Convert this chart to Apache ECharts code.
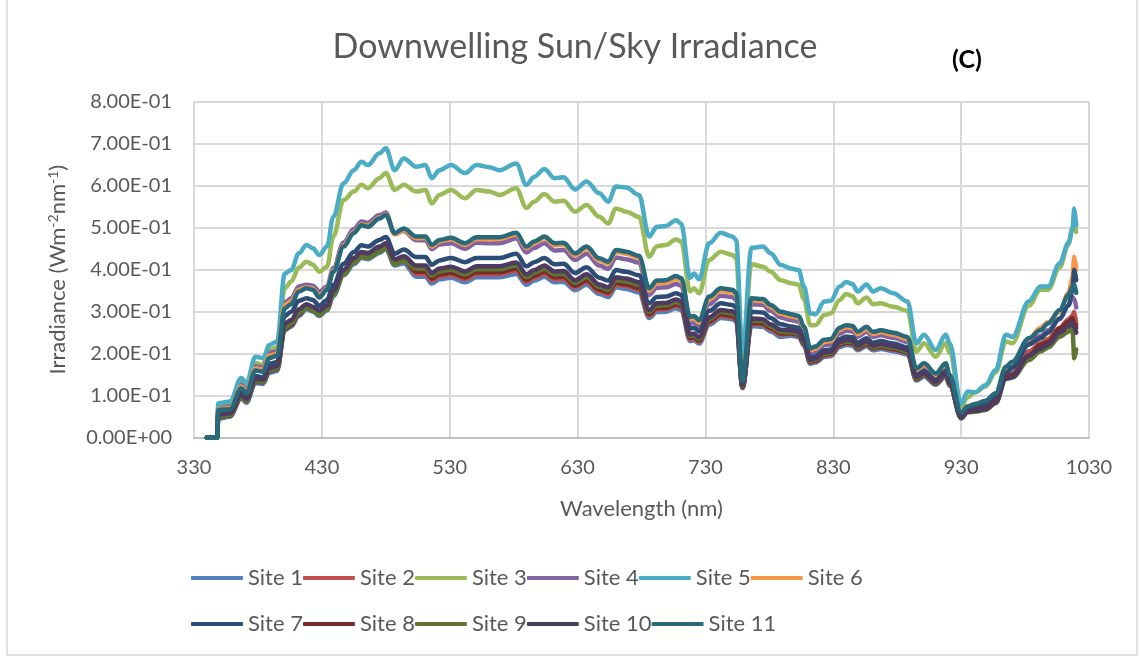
<!DOCTYPE html>
<html>
<head>
<meta charset="utf-8">
<script src="https://cdn.jsdelivr.net/npm/echarts@6/dist/echarts.min.js"></script>
<style>
html,body{margin:0;padding:0;background:#fff;}
#chart{width:1141px;height:658px;}
</style>
</head>
<body>
<div id="chart"></div>
<script>
// Wavelength (nm)
const wavelength = [340,348,349,358,367,371,378,384,389,395,
401,406,412,418,423,428,434,439,447,455,
461,466,475,480,487,494,504,511,516,522,
531,542,551,561,569,582,590,596,604,612,
619,628,637,647,654,660,668,678,686,692,
699,707,711,718,721,725,733,742,751,754,
759,766,775,781,789,797,803,807,812,816,
823,828,835,840,845,849,856,861,867,877,
888,895,901,910,918,921,930,935,941,949,
957,965,970,983,992,998,1007,1014,1017,1018.5,
1020];

const site1 = [0,0,.045,.050,.094,.083,.130,.128,.155,.159,
.256,.264,.290,.306,.300,.290,.303,.337,.386,.413,
.428,.425,.440,.449,.410,.415,.383,.383,.367,.377,
.381,.370,.382,.382,.382,.390,.364,.374,.383,.370,
.371,.351,.364,.342,.335,.358,.354,.346,.285,.299,
.300,.308,.304,.230,.232,.224,.269,.285,.282,.276,
.118,.266,.264,.253,.240,.243,.239,.219,.176,.179,
.192,.194,.216,.221,.219,.208,.218,.208,.211,.206,
.198,.136,.146,.126,.146,.123,.052,.066,.070,.075,
.094,.150,.156,.205,.222,.232,.260,.282,.290,.288,
.270];

const site2 = [0,0,.052,.056,.099,.089,.136,.134,.161,.166,
.264,.272,.298,.312,.307,.297,.310,.345,.394,.421,
.436,.434,.449,.458,.419,.424,.390,.390,.374,.384,
.388,.377,.389,.389,.389,.398,.371,.381,.390,.377,
.378,.358,.371,.348,.341,.364,.361,.353,.290,.305,
.306,.314,.310,.235,.236,.228,.274,.290,.287,.281,
.119,.271,.269,.258,.245,.247,.244,.223,.179,.182,
.196,.197,.220,.225,.223,.212,.222,.212,.215,.210,
.202,.139,.149,.129,.149,.125,.050,.064,.068,.072,
.090,.148,.152,.205,.225,.235,.262,.280,.290,.300,
.270];

const site3 = [0,0,0.076,0.080,0.130,0.120,0.178,0.174,0.210,0.215,
0.356,0.372,0.405,0.419,0.412,0.395,0.407,0.479,0.566,0.586,
0.602,0.594,0.618,0.630,0.590,0.602,0.586,0.590,0.558,0.578,
0.590,0.570,0.590,0.586,0.578,0.594,0.547,0.562,0.580,0.562,
0.564,0.538,0.554,0.526,0.510,0.546,0.538,0.526,0.431,0.456,
0.459,0.472,0.467,0.348,0.356,0.344,0.423,0.443,0.435,0.428,
0.185,0.413,0.407,0.395,0.375,0.368,0.364,0.330,0.268,0.268,
0.292,0.296,0.328,0.342,0.337,0.320,0.334,0.318,0.320,0.312,
0.302,0.205,0.225,0.193,0.225,0.201,0.074,0.096,0.108,0.122,
0.155,0.229,0.225,0.314,0.352,0.352,0.405,0.460,0.500,0.510,
0.490];

const site4 = [0,0,0.070,0.074,0.126,0.114,0.170,0.167,0.202,0.206,
0.322,0.332,0.360,0.364,0.362,0.348,0.360,0.404,0.465,0.497,
0.515,0.512,0.530,0.536,0.486,0.492,0.470,0.470,0.449,0.460,
0.463,0.450,0.464,0.463,0.463,0.474,0.441,0.452,0.463,0.446,
0.447,0.423,0.438,0.410,0.402,0.429,0.425,0.417,0.340,0.357,
0.358,0.366,0.362,0.272,0.274,0.264,0.318,0.338,0.335,0.328,
0.128,0.318,0.316,0.302,0.286,0.280,0.276,0.252,0.200,0.204,
0.220,0.222,0.248,0.255,0.253,0.240,0.252,0.240,0.244,0.238,
0.228,0.157,0.168,0.145,0.168,0.141,0.055,0.070,0.076,0.083,
0.100,0.158,0.170,0.225,0.242,0.256,0.282,0.315,0.335,0.330,
0.310];

const site5 = [0,0,0.082,0.086,0.142,0.129,0.193,0.189,0.221,0.229,
0.391,0.399,0.439,0.459,0.451,0.435,0.455,0.526,0.606,0.637,
0.657,0.649,0.677,0.689,0.637,0.665,0.645,0.649,0.618,0.637,
0.649,0.630,0.649,0.644,0.637,0.653,0.602,0.621,0.640,0.618,
0.620,0.591,0.610,0.582,0.562,0.598,0.596,0.578,0.479,0.502,
0.504,0.518,0.510,0.380,0.391,0.377,0.463,0.488,0.479,0.471,
0.200,0.452,0.455,0.439,0.411,0.403,0.399,0.360,0.296,0.294,
0.324,0.326,0.360,0.371,0.366,0.348,0.365,0.348,0.356,0.344,
0.324,0.225,0.245,0.209,0.245,0.225,0.080,0.110,0.108,0.125,
0.161,0.245,0.240,0.325,0.360,0.360,0.415,0.465,0.495,0.546,
0.505];

const site6 = [0,0,0.068,0.071,0.122,0.110,0.165,0.162,0.196,0.200,
0.316,0.325,0.352,0.358,0.355,0.338,0.354,0.398,0.458,0.490,
0.508,0.505,0.524,0.532,0.484,0.494,0.475,0.476,0.455,0.468,
0.472,0.459,0.473,0.472,0.473,0.484,0.451,0.463,0.475,0.458,
0.459,0.434,0.450,0.422,0.414,0.442,0.438,0.428,0.350,0.368,
0.369,0.378,0.374,0.282,0.284,0.274,0.330,0.349,0.346,0.339,
0.132,0.327,0.325,0.311,0.295,0.289,0.285,0.260,0.208,0.212,
0.228,0.230,0.257,0.263,0.261,0.247,0.259,0.247,0.251,0.245,
0.235,0.161,0.173,0.149,0.173,0.145,0.058,0.074,0.080,0.087,
0.104,0.165,0.178,0.235,0.262,0.275,0.300,0.345,0.380,0.431,
0.400];

const site7 = [0,0,0.060,0.062,0.108,0.098,0.147,0.144,0.176,0.180,
0.290,0.300,0.326,0.332,0.328,0.314,0.328,0.364,0.414,0.442,
0.458,0.455,0.471,0.478,0.438,0.448,0.430,0.430,0.412,0.422,
0.428,0.418,0.428,0.428,0.428,0.438,0.408,0.418,0.428,0.413,
0.414,0.392,0.406,0.381,0.374,0.399,0.395,0.387,0.320,0.335,
0.336,0.344,0.340,0.260,0.262,0.253,0.302,0.320,0.316,0.310,
0.124,0.300,0.298,0.285,0.270,0.265,0.261,0.238,0.190,0.194,
0.208,0.210,0.235,0.241,0.239,0.226,0.237,0.226,0.230,0.224,
0.215,0.148,0.159,0.137,0.159,0.134,0.053,0.068,0.074,0.080,
0.098,0.155,0.167,0.222,0.237,0.250,0.284,0.315,0.350,0.400,
0.375];

const site8 = [0,0,.048,.053,.096,.086,.133,.132,.158,.163,
.259,.268,.294,.310,.305,.295,.308,.342,.391,.419,
.433,.431,.446,.455,.416,.422,.395,.395,.379,.389,
.393,.382,.394,.394,.394,.403,.375,.385,.395,.382,
.383,.362,.375,.352,.346,.369,.365,.357,.294,.309,
.309,.318,.314,.238,.239,.231,.277,.294,.290,.285,
.120,.274,.272,.261,.248,.248,.245,.224,.180,.183,
.197,.199,.221,.226,.225,.213,.223,.213,.216,.211,
.203,.139,.150,.129,.150,.126,.048,.062,.066,.070,
.087,.145,.149,.195,.221,.228,.260,.276,.285,.272,
.262];

const site9 = [0,0,.050,.054,.097,.087,.134,.133,.160,.165,
.262,.271,.297,.308,.303,.292,.305,.340,.388,.416,
.430,.428,.443,.451,.413,.420,.402,.402,.386,.396,
.400,.389,.401,.401,.401,.410,.382,.392,.402,.389,
.390,.369,.382,.359,.352,.375,.372,.364,.299,.314,
.315,.323,.319,.242,.244,.235,.282,.299,.296,.290,
.122,.279,.277,.265,.252,.251,.248,.227,.182,.186,
.199,.201,.224,.229,.227,.215,.226,.215,.219,.214,
.205,.141,.151,.131,.151,.127,.046,.060,.062,.066,
.082,.140,.143,.185,.205,.215,.240,.252,.262,.189,
.210];

const site10 = [0,0,.055,.058,.102,.092,.140,.138,.166,.170,
.272,.280,.306,.318,.312,.302,.315,.350,.400,.428,
.442,.440,.455,.463,.425,.432,.410,.410,.392,.403,
.407,.396,.408,.408,.408,.417,.389,.399,.410,.396,
.397,.375,.389,.365,.358,.382,.379,.370,.304,.320,
.321,.329,.325,.246,.248,.239,.287,.304,.301,.295,
.125,.284,.282,.270,.257,.256,.252,.231,.185,.189,
.203,.204,.228,.233,.231,.219,.230,.219,.223,.218,
.209,.144,.154,.133,.154,.130,.048,.062,.064,.068,
.084,.141,.145,.195,.212,.222,.250,.265,.275,.264,
.250];

const site11 = [0,0,0.066,0.068,0.118,0.106,0.160,0.157,0.190,0.195,
0.308,0.318,0.348,0.356,0.352,0.334,0.352,0.395,0.455,0.487,
0.506,0.502,0.522,0.530,0.487,0.498,0.479,0.479,0.459,0.471,
0.476,0.463,0.477,0.477,0.477,0.488,0.455,0.467,0.479,0.463,
0.464,0.439,0.455,0.427,0.419,0.447,0.443,0.433,0.356,0.374,
0.375,0.385,0.380,0.288,0.290,0.280,0.336,0.356,0.352,0.345,
0.135,0.332,0.330,0.316,0.300,0.294,0.290,0.265,0.213,0.217,
0.233,0.235,0.262,0.268,0.266,0.252,0.264,0.252,0.256,0.250,
0.240,0.165,0.177,0.153,0.177,0.149,0.060,0.074,0.080,0.088,
0.106,0.169,0.181,0.237,0.256,0.272,0.304,0.340,0.360,0.365,
0.345];

const seriesNames = ['Site 1','Site 2','Site 3','Site 4','Site 5','Site 6','Site 7','Site 8','Site 9','Site 10','Site 11'];
const seriesValues = [site1,site2,site3,site4,site5,site6,site7,site8,site9,site10,site11];
const seriesColors = ['#4F81BD','#C0504D','#9BBB59','#8064A2','#4BACC6','#F79646','#2C4D75','#772C2A','#5F7530','#4D3B62','#276A7C'];

const FONT = 'Lato';
const GREY = '#595959';

function sci(v){
  if (Math.abs(v) < 1e-12) return '0.00E+00';
  const e = Math.floor(Math.log10(Math.abs(v)) + 1e-9);
  const m = v / Math.pow(10, e);
  return m.toFixed(2) + 'E' + (e < 0 ? '-' : '+') + String(Math.abs(e)).padStart(2, '0');
}

const chart = echarts.init(document.getElementById('chart'), null, {renderer:'canvas'});

const series = seriesNames.map((name, k) => ({
  name: name,
  type: 'line',
  data: wavelength.map((w, i) => [w, seriesValues[k][i]]),
  symbol: 'none',
  showSymbol: false,
  smooth: 0.35,
  smoothMonotone: 'x',
  itemStyle: {color: seriesColors[k]},
  lineStyle: {width: 4.5, color: seriesColors[k], cap: 'round', join: 'round'},
  emphasis: {disabled: true},
  silent: true
}));

const legendCommon = {
  orient: 'horizontal',
  left: 191,
  padding: 0,
  itemGap: 0,
  itemWidth: 52,
  itemHeight: 4,
  icon: 'roundRect',
  textStyle: {fontFamily: FONT, fontSize: 22, color: GREY},
  formatter: function (name) { return '{t|' + name + '}'; },
  selectedMode: false
};
legendCommon.textStyle.rich = {t: {fontFamily: FONT, fontSize: 22, color: GREY, width: 73}};

const option = {
  animation: false,
  backgroundColor: '#ffffff',
  graphic: [
    {type: 'rect', shape: {x: 7, y: -5, width: 1130, height: 660}, style: {fill: 'none', stroke: '#D9D9D9', lineWidth: 1.5}, silent: true, z: -1},
    {type: 'text', x: 575, y: 47, style: {text: 'Downwelling Sun/Sky Irradiance', fontFamily: FONT, fontSize: 34, fill: GREY, textAlign: 'center', textVerticalAlign: 'middle'}},
    {type: 'text', x: 967, y: 60, style: {text: '(C)', fontFamily: FONT, fontSize: 25, fontWeight: 'bold', fill: '#000', textAlign: 'center', textVerticalAlign: 'middle'}}
  ],
  grid: {left: 194, right: 52, top: 101.7, bottom: 220.3, containLabel: false},
  legend: [
    Object.assign({}, legendCommon, {top: 567, data: seriesNames.slice(0, 6)}),
    Object.assign({}, legendCommon, {top: 613, data: seriesNames.slice(6)})
  ],
  xAxis: {
    type: 'value', min: 330, max: 1030, interval: 100,
    name: 'Wavelength (nm)', nameLocation: 'middle', nameGap: 60,
    nameTextStyle: {fontFamily: FONT, fontSize: 22, color: GREY},
    axisLine: {show: true, onZero: false, lineStyle: {color: '#BFBFBF', width: 2}},
    axisTick: {show: false},
    axisLabel: {margin: 20, fontFamily: FONT, fontSize: 20, color: GREY, formatter: function (v) { return String(Math.round(v)); }},
    splitLine: {show: true, lineStyle: {color: '#D9D9D9', width: 2}}
  },
  yAxis: {
    type: 'value', min: 0, max: 0.8, interval: 0.1,
    name: 'Irradiance (Wm{sup|-2}nm{sup|-1})', nameLocation: 'middle', nameGap: 124,
    nameTextStyle: {fontFamily: FONT, fontSize: 22, color: GREY,
      rich: {sup: {fontFamily: FONT, fontSize: 14, color: GREY, verticalAlign: 'top', padding: [0,0,10,0]}}},
    axisLine: {show: false},
    axisTick: {show: false},
    axisLabel: {margin: 22, fontFamily: FONT, fontSize: 20, color: GREY, formatter: sci},
    splitLine: {show: true, lineStyle: {color: '#D9D9D9', width: 2}}
  },
  series: series
};

chart.setOption(option);
</script>
</body>
</html>
